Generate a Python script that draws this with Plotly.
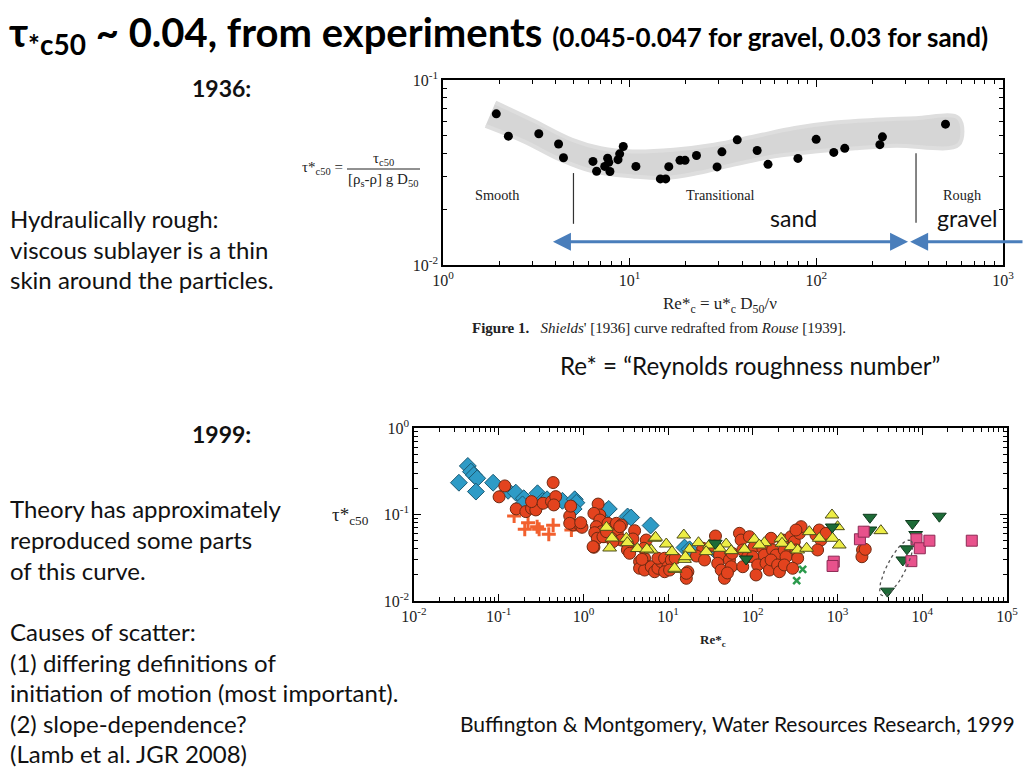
import numpy as np
import plotly.graph_objects as go

# ---------------- DATA ----------------
# 1936 Shields curve (top panel)
shields_re = [1.93, 2.24, 3.26, 4.16, 4.42, 6.36, 6.65, 7.35, 7.62, 7.73, 7.84, 8.66, 8.84, 9.24,
              10.8, 14.6, 15.6, 16.2, 18.6, 19.8, 22.8, 29.4, 31.2, 37.7, 48.2, 55.1, 79.7, 99.8,
              124, 142, 219, 226, 492]
shields_tau = [0.0656, 0.0497, 0.0512, 0.0451, 0.0380, 0.0363, 0.0321, 0.0341, 0.0378, 0.0359, 0.0320,
               0.0371, 0.0399, 0.0437, 0.0341, 0.0292, 0.0292, 0.0340, 0.0368, 0.0368, 0.0391, 0.0339,
               0.0409, 0.0475, 0.0416, 0.0350, 0.0377, 0.0478, 0.0406, 0.0427, 0.0447, 0.0493, 0.0577]
band_upper_re = [1.91, 2.99, 4.93, 7.0, 10.4, 17.2, 28.3, 46.5, 76.6, 126, 208, 342, 578]
band_upper_tau = [0.0755, 0.0610, 0.0475, 0.0428, 0.0411, 0.0420, 0.0447, 0.0495, 0.0550, 0.0589, 0.0609, 0.0622, 0.0622]
band_lower_re = [1.69, 2.71, 4.25, 6.33, 10.4, 15.5, 23.2, 36.2, 59.7, 98.3, 162, 267, 578]
band_lower_tau = [0.0565, 0.0466, 0.0371, 0.0321, 0.0301, 0.0295, 0.0314, 0.0349, 0.0387, 0.0411, 0.0428, 0.0441, 0.0447]
regime_bounds_re = [5.0, 342]
regime_bounds_tau = [[0.0314, 0.0167], [0.0402, 0.0169]]
sand_range = [3.81, 310]
gravel_start = 318

# 1999 Buffington & Montgomery compilation (bottom panel)
diam_re = [0.0339, 0.0432, 0.0470, 0.0509, 0.0557, 0.0538, 0.0859, 0.129, 0.159, 0.198, 0.191, 0.287,
           0.329, 0.372, 0.565, 0.789, 0.826, 0.767, 1.56, 1.88, 1.99, 3.32, 3.66, 6.21, 15.6, 17.9, 38.6]
diam_tau = [0.233, 0.364, 0.313, 0.286, 0.262, 0.184, 0.233, 0.188, 0.179, 0.154, 0.131, 0.176,
            0.143, 0.150, 0.144, 0.150, 0.137, 0.116, 0.114, 0.111, 0.116, 0.0948, 0.0923, 0.0746,
            0.0415, 0.0396, 0.0356]
plus_re = [0.152, 0.222, 0.203, 0.284, 0.300, 0.390, 0.439, 0.721]
plus_tau = [0.0961, 0.0804, 0.0675, 0.0723, 0.0675, 0.0590, 0.0750, 0.0662]
circ_re = [0.118, 0.101, 0.161, 0.209, 0.244, 0.274, 0.244, 0.334, 0.420, 0.439, 0.471, 0.447,
           0.689, 0.708, 0.753, 0.904, 0.962, 0.689, 0.929, 1.49, 1.56, 1.33, 1.56, 1.42, 1.63, 1.36,
           1.75, 1.46, 1.33, 1.95, 2.23, 2.45, 2.80, 2.51, 2.14, 2.80, 1.70, 1.87, 2.23, 2.68, 4.02,
           3.84, 3.35, 3.30, 3.51, 4.60, 5.27, 5.77, 5.52, 5.18, 4.60, 5.27, 6.32, 6.92, 7.57, 8.30,
           7.57, 9.08, 9.93, 9.08, 10.9, 12.1, 10.4, 17.1, 16.4, 16.4, 4.90, 1.30,
           25.6, 36.2, 35.2, 40.4, 38.5, 42.3, 46.2, 52.9, 55.5, 57.0, 69.5, 72.7, 76.0, 76.0, 91.0,
           86.9, 104, 99.6, 114, 109, 131, 137, 143, 157, 164, 171, 188, 164, 196, 206, 225, 235,
           246, 235, 282, 309, 323, 338, 354, 371, 323, 295, 556, 608, 637, 730, 581, 50.1, 21.6,
           26.9, 1972, 1938, 2120]
circ_tau = [0.214, 0.160, 0.116, 0.108, 0.118, 0.113, 0.141, 0.135, 0.141, 0.234, 0.161, 0.129,
            0.096, 0.125, 0.0756, 0.0756, 0.0711, 0.0791, 0.0804, 0.132, 0.0987, 0.103, 0.0864,
            0.0723, 0.0633, 0.0616, 0.0554, 0.0531, 0.0418, 0.0791, 0.0693, 0.0791, 0.0756, 0.0606,
            0.0531, 0.0507, 0.0554, 0.0633, 0.0485, 0.0723, 0.0650, 0.0521, 0.0444, 0.0389, 0.0356,
            0.0285, 0.0312, 0.0249, 0.0507, 0.0407, 0.0239, 0.0228, 0.0249, 0.0218, 0.0239, 0.0285,
            0.0312, 0.0312, 0.0249, 0.0218, 0.0298, 0.0312, 0.0228, 0.0218, 0.0183, 0.0209, 0.0303,
            0.0424,
            0.0407, 0.0564, 0.0432, 0.0340, 0.0273, 0.0228, 0.0183, 0.0298, 0.0249, 0.0356, 0.0606,
            0.0507, 0.0389, 0.0249, 0.0554, 0.0325, 0.0424, 0.0325, 0.0261, 0.0200, 0.0407, 0.0340,
            0.0273, 0.0228, 0.0531, 0.0389, 0.0340, 0.0298, 0.0261, 0.0218, 0.0507, 0.0389, 0.0325,
            0.0261, 0.0554, 0.0485, 0.0389, 0.0312, 0.0606, 0.0723, 0.0662, 0.0239, 0.0579, 0.0662,
            0.0507, 0.0606, 0.0389, 0.0211, 0.0331, 0.0298, 0.0389, 0.0325, 0.0396]
tri_re = [1.87, 2.17, 2.04, 3.21, 3.30, 4.33, 6.92, 6.32, 9.51, 11.1, 15.3, 17.9, 15.6, 12.1, 22.8,
          30.8, 28.1, 48.4, 40.4, 55.5, 79.6, 104, 137, 119, 215, 221, 282, 338, 431, 464, 608,
          859, 1000, 873, 1047, 3245, 11.9, 7.11, 5.61, 16.0]
tri_tau = [0.0711, 0.0535, 0.0410, 0.0531, 0.0472, 0.0404, 0.0531, 0.0389, 0.0456, 0.0372, 0.0579,
           0.0396, 0.0303, 0.0232, 0.0472, 0.0444, 0.0372, 0.0456, 0.0407, 0.0382, 0.0396, 0.0517,
           0.0472, 0.0444, 0.0531, 0.0465, 0.0424, 0.0389, 0.0407, 0.0633, 0.0531, 0.0987, 0.0723,
           0.0531, 0.0444, 0.0650, 0.0239, 0.0545, 0.0399, 0.0325]
tdown_re = [2410, 2410, 7650, 8350, 6590, 5900, 3880, 15900, 867, 83.3, 36.0]
tdown_tau = [0.0928, 0.0662, 0.0787, 0.0587, 0.0401, 0.0298, 0.0130, 0.0956, 0.0717, 0.0306, 0.0465]
sq_re = [902, 873, 1836, 2036, 8530, 9350, 12140, 7430, 38400]
sq_tau = [0.0285, 0.0254, 0.0517, 0.0633, 0.0517, 0.0407, 0.0498, 0.0289, 0.0498]
x_re = [387, 329]
x_tau = [0.0232, 0.0172]
# dotted ellipse (log10 centre, semi-axes in decades, tilt in degrees)
ell_center = (3.692, -1.618)
ell_axes = (0.36, 0.11)
ell_angle = 62

top_xticks = [1, 10, 100, 1000]
top_xtext = ["10<sup>0</sup>", "10<sup>1</sup>", "10<sup>2</sup>", "10<sup>3</sup>"]
top_yticks = [0.01, 0.1]
top_ytext = ["10<sup>-2</sup>", "10<sup>-1</sup>"]
bot_xticks = [0.01, 0.1, 1, 10, 100, 1000, 10000, 100000]
bot_xtext = ["10<sup>-2</sup>", "10<sup>-1</sup>", "10<sup>0</sup>", "10<sup>1</sup>", "10<sup>2</sup>",
             "10<sup>3</sup>", "10<sup>4</sup>", "10<sup>5</sup>"]
bot_yticks = [0.01, 0.1, 1]
bot_ytext = ["10<sup>-2</sup>", "10<sup>-1</sup>", "10<sup>0</sup>"]

# ---------------- FIGURE ----------------
W, H = 1024, 768
def px(x): return x / W
def py(y): return 1 - y / H

SERIF = "Liberation Serif"
SANS = "Lato"

fig = go.Figure()

# top panel
band_x = band_upper_re + band_lower_re[::-1]
band_y = band_upper_tau + band_lower_tau[::-1]
fig.add_trace(go.Scatter(x=band_x, y=band_y, fill="toself", fillcolor="#d6d6d6",
                         line=dict(color="#dedede", width=4, shape="spline"), mode="lines",
                         xaxis="x", yaxis="y", hoverinfo="skip"))
fig.add_trace(go.Scatter(x=shields_re, y=shields_tau, mode="markers",
                         marker=dict(color="black", size=9), xaxis="x", yaxis="y"))
for xr, ty in zip(regime_bounds_re, regime_bounds_tau):
    fig.add_trace(go.Scatter(x=[xr, xr], y=ty, mode="lines", line=dict(color="#333", width=1.2),
                             xaxis="x", yaxis="y"))

# bottom panel
def mk(color, line, symbol, size):
    return dict(color=color, symbol=symbol, size=size, line=dict(color=line, width=1))

fig.add_trace(go.Scatter(x=diam_re, y=diam_tau, mode="markers",
                         marker=mk("#2e9bc6", "#1d5a73", "diamond", 13), xaxis="x2", yaxis="y2"))
fig.add_trace(go.Scatter(x=plus_re, y=plus_tau, mode="markers",
                         marker=dict(symbol="cross-thin", size=10, line=dict(color="#f2602e", width=3)),
                         xaxis="x2", yaxis="y2"))
fig.add_trace(go.Scatter(x=circ_re, y=circ_tau, mode="markers",
                         marker=mk("#e3431e", "#6e2a12", "circle", 12), xaxis="x2", yaxis="y2"))
fig.add_trace(go.Scatter(x=tri_re, y=tri_tau, mode="markers",
                         marker=mk("#eded45", "#4d4d18", "triangle-up", 12), xaxis="x2", yaxis="y2"))
fig.add_trace(go.Scatter(x=tdown_re, y=tdown_tau, mode="markers",
                         marker=mk("#1d6b37", "#0e3a1d", "triangle-down", 12), xaxis="x2", yaxis="y2"))
fig.add_trace(go.Scatter(x=sq_re, y=sq_tau, mode="markers",
                         marker=mk("#e8528c", "#8d2b55", "square", 11), xaxis="x2", yaxis="y2"))
fig.add_trace(go.Scatter(x=x_re, y=x_tau, mode="markers",
                         marker=dict(symbol="x-thin", size=7, line=dict(color="#2b9a4c", width=2.5)),
                         xaxis="x2", yaxis="y2"))
t = np.linspace(0, 2 * np.pi, 120)
a, b = ell_axes
th = np.deg2rad(ell_angle)
ex = ell_center[0] + a * np.cos(t) * np.cos(th) - b * np.sin(t) * np.sin(th)
ey = ell_center[1] + a * np.cos(t) * np.sin(th) + b * np.sin(t) * np.cos(th)
fig.add_trace(go.Scatter(x=10 ** ex, y=10 ** ey, mode="lines",
                         line=dict(color="#555", width=1.3, dash="dot"), xaxis="x2", yaxis="y2"))

def minor_vals(lo, hi):
    return [m * 10.0 ** e for e in range(lo, hi) for m in range(2, 10)]

axis_common = dict(type="log", showgrid=False, zeroline=False, showline=True, linecolor="black",
                   linewidth=1.5, mirror="ticks", ticks="inside", ticklen=7, tickwidth=1.2,
                   automargin=False,
                   tickcolor="black", tickfont=dict(family=SERIF, size=16, color="#222"))

fig.update_layout(
    width=W, height=H, autosize=False, showlegend=False,
    margin=dict(l=0, r=0, t=0, b=0, pad=0, autoexpand=False),
    paper_bgcolor="white", plot_bgcolor="white",
    xaxis=dict(axis_common, domain=[px(443), px(1003)], range=[0, 3], anchor="y",
               tickvals=top_xticks, ticktext=top_xtext,
               minor=dict(ticks="inside", ticklen=4, tickcolor="black", tickmode="array",
                          tickvals=minor_vals(0, 3))),
    yaxis=dict(axis_common, domain=[py(265), py(80)], range=[-2, -1], anchor="x",
               tickvals=top_yticks, ticktext=top_ytext,
               minor=dict(ticks="inside", ticklen=4, tickcolor="black", tickmode="array",
                          tickvals=minor_vals(-2, -1))),
    xaxis2=dict(axis_common, domain=[px(414), px(1007)], range=[-2, 5], anchor="y2",
                tickvals=bot_xticks, ticktext=bot_xtext,
                minor=dict(ticks="inside", ticklen=4, tickcolor="black", tickmode="array",
                           tickvals=minor_vals(-2, 5))),
    yaxis2=dict(axis_common, domain=[py(601), py(428)], range=[-2, 0], anchor="x2",
                tickvals=bot_yticks, ticktext=bot_ytext,
                minor=dict(ticks="inside", ticklen=4, tickcolor="black", tickmode="array",
                           tickvals=minor_vals(-2, 0))),
)

ann = []
def txt(x, y, s, size=24, family=SANS, color="#111", xanchor="left", yanchor="middle"):
    ann.append(dict(x=px(x), y=py(y), xref="paper", yref="paper", text=s, showarrow=False,
                    xanchor=xanchor, yanchor=yanchor, font=dict(family=family, size=size, color=color)))

# title
txt(7, 34, "<b>τ<sub>*c50</sub> ~ 0.04, from experiments "
           "<span style='font-size:26px'>(0.045-0.047 for gravel, 0.03 for sand)</span></b>", size=40,
    color="#000")
# left column
txt(190, 88, "<b>1936:</b>", size=23)
txt(8, 218, "Hydraulically rough:")
txt(8, 249, "viscous sublayer is a thin")
txt(8, 280, "skin around the particles.")
txt(190, 434, "<b>1999:</b>", size=23)
txt(8, 508, "Theory has approximately")
txt(8, 539, "reproduced some parts")
txt(8, 570, "of this curve.")
txt(8, 631, "Causes of scatter:")
txt(8, 662, "(1) differing definitions of")
txt(8, 692, "initiation of motion (most important).")
txt(8, 723, "(2) slope-dependence?")
txt(8, 753, "(Lamb et al. JGR 2008)")
txt(558, 365, "Re* = “Reynolds roughness number”", size=24.2)
txt(458, 723, "Buffington & Montgomery, Water Resources Research, 1999", size=21)

# top panel labels
txt(300, 168, "τ*<sub>c50</sub> =", size=15, family=SERIF, color="#222")
txt(383, 159, "τ<sub>c50</sub>", size=15, family=SERIF, color="#222", xanchor="center")
txt(383, 180, "[ρ<sub>s</sub>-ρ] g D<sub>50</sub>", size=15, family=SERIF, color="#222", xanchor="center")
txt(720, 305, "Re*<sub>c</sub> = u*<sub>c</sub> D<sub>50</sub>/ν", size=17, family=SERIF, color="#222",
    xanchor="center")
txt(470, 328, "<b>Figure 1.</b>   <i>Shields</i>' [1936] curve redrafted from <i>Rouse</i> [1939].",
    size=15, family=SERIF, color="#222")
txt(497, 195, "Smooth", size=14.3, family=SERIF, color="#222", xanchor="center")
txt(720, 195, "Transitional", size=14.3, family=SERIF, color="#222", xanchor="center")
txt(962, 195, "Rough", size=14.3, family=SERIF, color="#222", xanchor="center")
txt(793, 218, "sand", size=23, color="#111", xanchor="center")
txt(967, 218, "gravel", size=23, color="#111", xanchor="center")

# bottom panel labels
txt(350, 516, "τ*<sub>c50</sub>", size=19, family=SERIF, color="#222", xanchor="center")
txt(713, 640, "<b>Re*<sub>c</sub></b>", size=13, family=SERIF, color="#222", xanchor="center")

fig.add_shape(type="line", xref="paper", yref="paper", x0=px(347), x1=px(420), y0=py(169), y1=py(169),
              line=dict(color="#222", width=1))

# blue arrows
ARROW = "#4a7ebb"
ann.append(dict(x=np.log10(sand_range[1]), y=np.log10(0.01337), xref="x", yref="y",
                ax=np.log10(sand_range[0]), ay=np.log10(0.01337), axref="x", ayref="y",
                text="", showarrow=True, arrowhead=2, startarrowhead=2, arrowside="end+start",
                arrowsize=1.2, startarrowsize=1.2, arrowwidth=3, arrowcolor=ARROW))
ann.append(dict(x=np.log10(gravel_start), y=np.log10(0.01337), xref="x", yref="y",
                ax=130, ay=0, text="", showarrow=True, arrowhead=2, arrowsize=1.2, arrowwidth=3,
                arrowcolor=ARROW))

fig.update_layout(annotations=ann)
# remove the browser's default 8px body margin so the 1024x768 figure fills the window exactly
fig.write_html("out.html", config={"displayModeBar": False},
               post_script="document.body.style.margin='0';document.body.style.overflow='hidden';")
